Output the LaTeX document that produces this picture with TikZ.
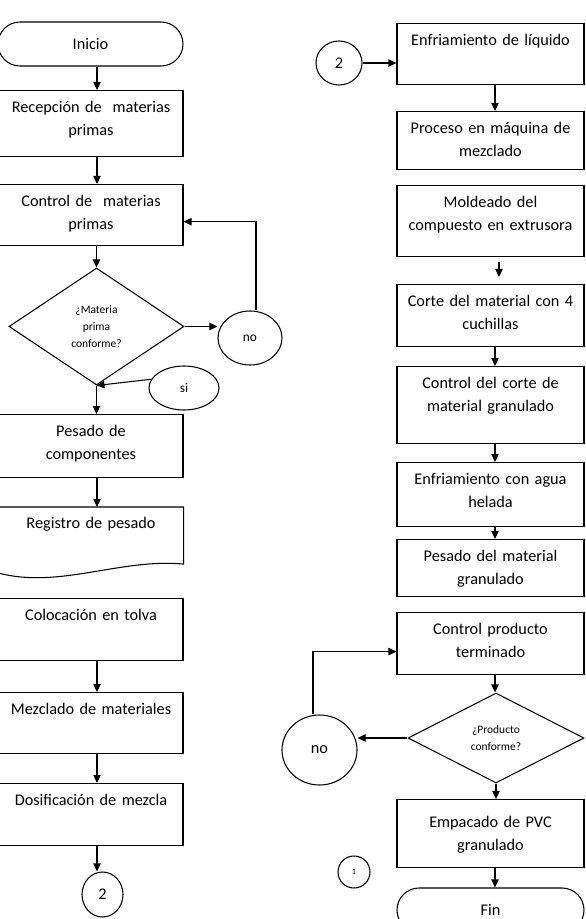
\documentclass[tikz,border=0pt]{standalone}
\usepackage{fontspec}
\setmainfont{Carlito}
\usetikzlibrary{arrows.meta,shapes.geometric}

\begin{document}
\begin{tikzpicture}[x=0.75pt,y=-0.75pt,
    line width=0.8pt,
    arr/.style={-{Triangle[length=6pt,width=5.5pt]}},
    lbox/.style={draw, rectangle, anchor=north, inner sep=0pt, minimum width=138pt,
      text width=138pt, align=center, text height=16.5pt,
      font=\fontsize{12.2}{17.25}\selectfont},
    rbox/.style={lbox, minimum width=140.25pt, text width=140.25pt},
    term/.style={draw, rectangle, rounded corners=16.5pt, minimum height=33pt,
      font=\fontsize{12.2}{14}\selectfont},
    dec/.style={draw, diamond, inner sep=0pt, align=center, text width=45pt,
      font=\fontsize{8.6}{12.5}\selectfont},
    conn/.style={draw, ellipse, inner sep=0pt, font=\fontsize{10}{12}\selectfont}
]
\useasboundingbox (0,0) rectangle (585,919);

\coordinate (axL) at (97,0);
\coordinate (axR) at (495,0);

% columna izquierda
\node[term, minimum width=138.75pt] (ini) at (90.5,44) {Inicio};
\node[lbox, text depth=33pt] (rec) at (91,90) {Recepción de \ materias\\primas};
\node[lbox, text depth=29.25pt] (ctrl) at (91,184) {Control de \ materias\\primas};
\node[dec, aspect=1.5, minimum width=131.25pt, minimum height=87.75pt] (dec1) at (96.5,326.5) {¿Materia\\prima\\conforme?};
\node[conn, minimum width=48pt, minimum height=40.5pt] (nob) at (250,338) {no};
\node[conn, minimum width=52.5pt, minimum height=33pt] (si) at (184,388) {si};
\node[lbox, text depth=30.75pt] (pes) at (91,414) {Pesado de\\componentes};
\node[lbox, draw=none, text height=15.75pt, text depth=26.25pt] (reg) at (91,507) {Registro de pesado};
\draw (reg.north west) -- (reg.north east) -- (reg.south east)
  .. controls +(-63,-6) and +(61,16) .. ([yshift=-6.75pt]reg.south west) -- cycle;
\node[lbox, text depth=30pt] (col) at (91,598) {Colocación en tolva};
\node[lbox, text depth=29.25pt] (mez) at (91,692) {Mezclado de materiales};
\node[lbox, text depth=30pt] (dos) at (91,783) {Dosificación de mezcla};
\node[conn, minimum width=30.75pt, minimum height=33.75pt, font=\fontsize{12.2}{14}\selectfont] (c2a) at (102.5,894.5) {2};

% columna derecha
\node[conn, minimum width=34.5pt, minimum height=33pt, font=\fontsize{12.2}{14}\selectfont] (c2b) at (339,63) {2};
\node[rbox, text depth=29.25pt] (enf) at (490.5,23) {Enfriamiento de líquido};
\node[rbox, text depth=27pt] (proc) at (490.5,111) {Proceso en máquina de\\mezclado};
\node[rbox, text depth=36.75pt] (mold) at (490.5,185) {Moldeado del\\compuesto en extrusora};
\node[rbox, text depth=30pt] (corte) at (490.5,284) {Corte del material con 4\\cuchillas};
\node[rbox, text depth=41.25pt] (ccor) at (490.5,366) {Control del corte de\\material granulado};
\node[rbox, text depth=31.5pt] (agua) at (490.5,462) {Enfriamiento con agua\\helada};
\node[rbox, text depth=26.25pt] (pmat) at (490.5,539) {Pesado del material\\granulado};
\node[rbox, text depth=30pt] (cprod) at (490.5,612) {Control producto\\terminado};
\node[dec, aspect=2, minimum width=132pt, minimum height=67.5pt] (dec2) at (496,738) {¿Producto\\conforme?};
\node[conn, minimum width=56.25pt, minimum height=52.5pt, font=\fontsize{12.2}{14}\selectfont] (nop) at (319.5,750) {no};
\node[rbox, text height=21pt, text depth=30pt] (emp) at (490.5,799) {Empacado de PVC\\granulado};
\node[conn, circle, minimum size=24pt, font=\fontsize{6}{7}\selectfont] (c1) at (354,872) {1};
\node[term, minimum width=140.25pt] (fin) at (490.5,910) {Fin};

% flechas
\foreach \a/\b in {ini/rec, rec/ctrl, pes/reg, col/mez, mez/dos, dos/c2a}
  \draw[arr] (\a.south -| axL) -- (\b.north -| axL);
\draw[arr] (ctrl.south -| dec1.north) -- (dec1.north);
\draw[arr] (dec1.east) -- (dec1.east -| nob.west);
\draw[arr] ([xshift=4.5pt]nob.north) |- ([yshift=-5pt]ctrl.east);
\draw[arr] (si.165) -- (dec1.south);
\draw[arr] (dec1.south) -- (pes.north -| dec1.south);

\draw[arr] (c2b.east) -- (enf.west |- c2b.east);
\draw[arr] (enf.south -| axR) -- (proc.north -| axR);
\coordinate (m1) at (499,262);
\coordinate (m2) at (499,277);
\draw[arr] (m1) -- (m2);
\foreach \a/\b in {corte/ccor, ccor/agua, agua/pmat, cprod/dec2, emp/fin}
  \draw[arr] (\a.south -| axR) -- (\b.north -| axR);
\draw[arr] (dec2.west) -- (nop.east |- dec2.west);
\draw[arr] ([xshift=-4.9pt]nop.north) |- ([yshift=-6pt]cprod.west);
\draw[arr] (dec2.south) -- (emp.north -| dec2.south);

\end{tikzpicture}
\end{document}
